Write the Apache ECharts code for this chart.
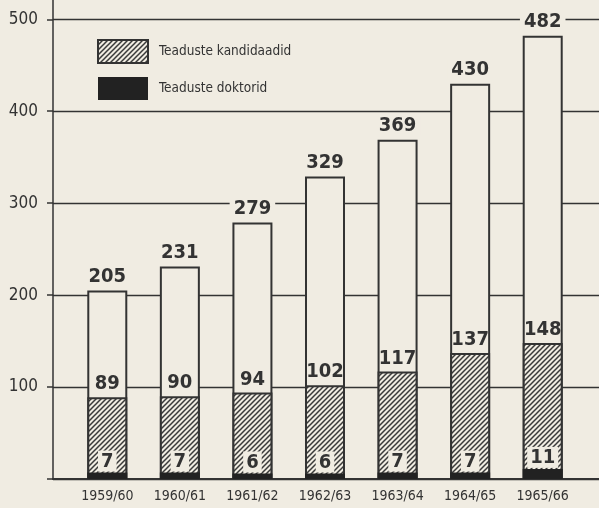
<!DOCTYPE html>
<html>
<head>
<meta charset="utf-8">
<script src="https://cdn.jsdelivr.net/npm/echarts@6/dist/echarts.min.js"></script>
<style>
  html, body { margin: 0; padding: 0; background: #f0ece2; }
  #chart { width: 599px; height: 508px; }
</style>
</head>
<body>
<div id="chart"></div>
<script>
// Õppeaastad ja teadlaste arv
const years = ['1959/60', '1960/61', '1961/62', '1962/63', '1963/64', '1964/65', '1965/66'];
const totals = [205, 231, 279, 329, 369, 430, 482];
const kandidaadid = [89, 90, 94, 102, 117, 137, 148];
const doktorid = [7, 7, 6, 6, 7, 7, 11];
const yTicks = [0, 100, 200, 300, 400, 500];

const paper = '#f0ece2';
const ink = '#333333';
const numFont = 'DejaVu Sans Condensed';

// viirutus kandidaatide tulpadele
function makeHatch() {
    const size = 5;
    const c = document.createElement('canvas');
    c.width = size; c.height = size;
    const ctx = c.getContext('2d');
    ctx.fillStyle = paper;
    ctx.fillRect(0, 0, size, size);
    ctx.strokeStyle = '#3a3a3a';
    ctx.lineWidth = 1.5;
    ctx.beginPath();
    ctx.moveTo(-1, size + 1); ctx.lineTo(size + 1, -1);
    ctx.moveTo(-1, 1); ctx.lineTo(1, -1);
    ctx.moveTo(size - 1, size + 1); ctx.lineTo(size + 1, size - 1);
    ctx.stroke();
    return { image: c, repeat: 'repeat' };
}

const chart = echarts.init(document.getElementById('chart'), null, { renderer: 'canvas' });

const yMax = 521;

chart.setOption({
    backgroundColor: paper,
    animation: false,
    grid: [
        { left: 53, right: 0, top: 0, bottom: 29 },
        { left: 71, right: 20, top: 0, bottom: 29 }
    ],
    legend: {
        left: 92,
        top: 34,
        orient: 'vertical',
        itemWidth: 50,
        itemHeight: 23,
        itemGap: 13,
        icon: 'rect',
        data: ['Teaduste kandidaadid', 'Teaduste doktorid'],
        textStyle: { fontFamily: numFont, fontSize: 13.5, color: ink, padding: [0, 0, 0, 6] }
    },
    xAxis: [
        {
            gridIndex: 0, type: 'value', min: 0, max: 1,
            axisLine: { show: true, lineStyle: { color: ink, width: 2 } },
            axisTick: { show: false }, axisLabel: { show: false }, splitLine: { show: false }
        },
        {
            gridIndex: 1, type: 'category', data: years,
            axisLine: { show: false }, axisTick: { show: false },
            axisLabel: { interval: 0, margin: 10, fontFamily: numFont, fontSize: 14, color: ink }
        }
    ],
    yAxis: [
        {
            gridIndex: 0, type: 'value', min: 0, max: yMax, interval: 100,
            axisLine: { show: true, lineStyle: { color: ink, width: 1.5 } },
            axisTick: { show: true, inside: false, length: 6, lineStyle: { color: ink, width: 1.5 } },
            axisLabel: {
                margin: 15, fontFamily: numFont, fontSize: 17, color: ink,
                showMaxLabel: false,
                formatter: v => (yTicks.includes(v) && v > 0 ? String(v) : '')
            },
            splitLine: { show: true, showMaxLine: false, lineStyle: { color: ink, width: 1.3 } }
        },
        { gridIndex: 1, type: 'value', min: 0, max: yMax, show: false }
    ],
    series: [
        {
            name: 'Kokku',
            type: 'bar',
            xAxisIndex: 1, yAxisIndex: 1,
            barWidth: 40,
            data: totals,
            itemStyle: { color: paper, borderColor: ink, borderWidth: 2 },
            label: {
                show: true, position: 'top', distance: 4,
                fontFamily: numFont, fontSize: 20, fontWeight: 'bold', color: ink,
                backgroundColor: paper, padding: [0, 4]
            },
            z: 2
        },
        {
            name: 'Teaduste kandidaadid',
            type: 'bar',
            xAxisIndex: 1, yAxisIndex: 1,
            barWidth: 40,
            barGap: '-100%',
            data: kandidaadid,
            itemStyle: { color: makeHatch(), borderColor: ink, borderWidth: 2 },
            label: {
                show: true, position: 'top', distance: 3,
                fontFamily: numFont, fontSize: 20, fontWeight: 'bold', color: ink
            },
            z: 3
        },
        {
            name: 'Teaduste doktorid',
            type: 'bar',
            xAxisIndex: 1, yAxisIndex: 1,
            barWidth: 40,
            barGap: '-100%',
            data: doktorid,
            itemStyle: { color: '#222' },
            label: {
                show: true, position: 'top', distance: 1,
                fontFamily: numFont, fontSize: 20, fontWeight: 'bold', color: ink,
                backgroundColor: paper, padding: [1, 3, 0, 3]
            },
            z: 4
        }
    ]
});
</script>
</body>
</html>
